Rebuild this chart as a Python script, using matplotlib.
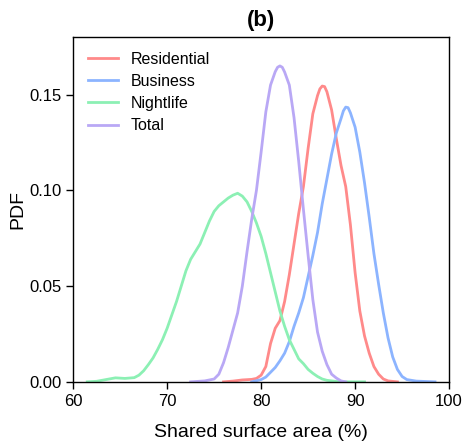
import matplotlib
matplotlib.use("Agg")
import matplotlib.pyplot as plt

plt.rcParams['font.family'] = ['Liberation Sans', 'DejaVu Sans']

# Residential
res_x = [76, 77, 78, 79, 79.5, 80, 80.5, 81, 81.5, 82, 82.5, 83, 83.5, 84, 84.5, 85, 85.5, 86,
         86.25, 86.5, 86.75, 87, 87.5, 88, 88.5, 89, 89.5, 90, 90.5, 91, 91.5, 92, 92.5, 93, 93.5, 94.5]
res_y = [0, 0.0004, 0.001, 0.0013, 0.0018, 0.0035, 0.008, 0.02, 0.028, 0.032, 0.042, 0.056, 0.072,
         0.088, 0.102, 0.122, 0.14, 0.1495, 0.153, 0.1545, 0.1542, 0.1515, 0.142, 0.127, 0.113, 0.102,
         0.082, 0.057, 0.037, 0.024, 0.015, 0.008, 0.004, 0.0015, 0.0005, 0]

# Business
bus_x = [79, 80, 80.5, 81, 81.5, 82, 82.5, 83, 83.5, 84, 84.5, 85, 85.5, 86, 86.5, 87, 87.5, 88,
         88.5, 88.75, 89, 89.25, 89.5, 90, 90.5, 91, 91.5, 92, 92.5, 93, 93.5, 94, 94.5, 95, 95.5,
         96.5, 98.5]
bus_y = [0, 0.0012, 0.0025, 0.005, 0.0075, 0.011, 0.015, 0.021, 0.029, 0.036, 0.044, 0.055, 0.066,
         0.078, 0.093, 0.106, 0.119, 0.13, 0.1375, 0.1415, 0.1435, 0.1432, 0.1405, 0.133, 0.12,
         0.104, 0.086, 0.067, 0.051, 0.036, 0.023, 0.013, 0.0065, 0.0028, 0.0012, 0.0004, 0]

# Nightlife
nl_x = [61.5, 62.5, 63.5, 64.5, 65.5, 66.5, 67, 67.5, 68, 68.5, 69, 69.5, 70, 70.5, 71, 71.5, 72,
        72.5, 73, 73.5, 74, 74.5, 75, 75.5, 76, 76.5, 77, 77.5, 78, 78.5, 79, 79.5, 80, 80.5, 81,
        81.5, 82, 82.5, 83, 83.5, 84, 84.5, 85, 85.5, 86, 86.5, 87, 88, 89, 91]
nl_y = [0, 0.0003, 0.0012, 0.0021, 0.0018, 0.0022, 0.0035, 0.0058, 0.009, 0.0125, 0.017, 0.022,
        0.028, 0.035, 0.042, 0.05, 0.058, 0.064, 0.068, 0.072, 0.078, 0.084, 0.089, 0.092, 0.094,
        0.096, 0.0975, 0.0985, 0.097, 0.094, 0.089, 0.083, 0.076, 0.067, 0.057, 0.047, 0.037, 0.029,
        0.022, 0.017, 0.012, 0.0095, 0.0065, 0.0045, 0.0028, 0.0015, 0.0008, 0.0002, 0, 0]

# Total
tot_x = [72.5, 74, 75, 75.5, 76, 76.5, 77, 77.5, 78, 78.5, 79, 79.5, 80, 80.5, 81, 81.5, 81.75,
         82, 82.25, 82.5, 83, 83.5, 84, 84.5, 85, 85.5, 86, 86.5, 87, 87.5, 88, 88.5, 89]
tot_y = [0, 0.0005, 0.0015, 0.004, 0.01, 0.018, 0.027, 0.036, 0.05, 0.068, 0.085, 0.1, 0.12, 0.141,
         0.155, 0.162, 0.1643, 0.165, 0.1643, 0.1618, 0.155, 0.138, 0.115, 0.09, 0.066, 0.043, 0.026,
         0.016, 0.009, 0.004, 0.002, 0.0005, 0]

fig = plt.figure(figsize=(4.63, 4.43), dpi=100)
ax = fig.add_axes([0.158, 0.138, 0.812, 0.778])

ax.plot(res_x, res_y, color='#ff8a8a', lw=2, label='Residential', solid_joinstyle='round')
ax.plot(bus_x, bus_y, color='#8cb4ff', lw=2, label='Business', solid_joinstyle='round')
ax.plot(nl_x, nl_y, color='#8cf0b4', lw=2, label='Nightlife', solid_joinstyle='round')
ax.plot(tot_x, tot_y, color='#b9a8f5', lw=2, label='Total', solid_joinstyle='round')

ax.set_xlim(60, 100)
ax.set_ylim(0, 0.18)
ax.set_xticks([60, 70, 80, 90, 100])
ax.set_yticks([0, 0.05, 0.10, 0.15])
ax.set_yticklabels(['0.00', '0.05', '0.10', '0.15'])
ax.tick_params(direction='out', length=5, labelsize=12, width=1)
for s in ax.spines.values():
    s.set_linewidth(1)

ax.set_xlabel('Shared surface area (%)', fontsize=14, labelpad=11)
ax.set_ylabel('PDF', fontsize=14, labelpad=2)
ax.set_title('(b)', fontsize=16, fontweight='bold', pad=8)

ax.legend(loc='upper left', frameon=False, fontsize=11.5, handlelength=1.9,
          handletextpad=0.8, labelspacing=0.45, borderaxespad=0.5)

fig.savefig('out.png', dpi=100)
